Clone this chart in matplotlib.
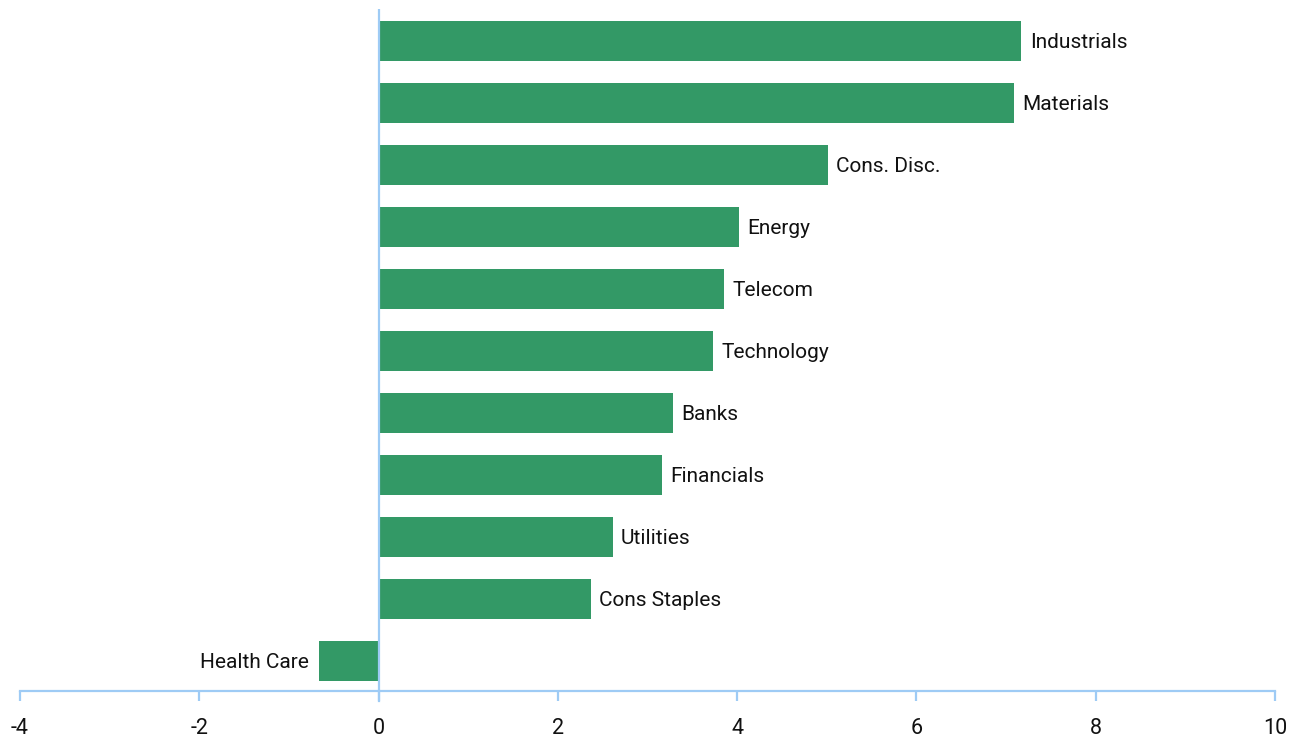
import matplotlib
matplotlib.use("Agg")
import matplotlib.pyplot as plt

categories = ["Health Care", "Cons Staples", "Utilities", "Financials", "Banks",
              "Technology", "Telecom", "Energy", "Cons. Disc.", "Materials", "Industrials"]
values = [-0.67, 2.37, 2.61, 3.16, 3.28, 3.73, 3.85, 4.02, 5.01, 7.09, 7.17]
xticks = [-4, -2, 0, 2, 4, 6, 8, 10]

GREEN = "#339966"
AXBLUE = "#9ecbf5"

plt.rcParams['font.family'] = ['Roboto', 'DejaVu Sans']

fig = plt.figure(figsize=(13.04, 7.45), dpi=100)
ax = fig.add_axes([20/1304, 54/745, 1255/1304, (691-9)/745])

ypos = list(range(len(categories)))
ax.barh(ypos, values, height=0.645, color=GREEN, zorder=2)

for y, v, c in zip(ypos, values, categories):
    if v >= 0:
        ax.annotate(c, (v, y), xytext=(6, -1), textcoords="offset points",
                    ha="left", va="center", fontsize=15, color="#111111")
    else:
        ax.annotate(c, (v, y), xytext=(-7, -1), textcoords="offset points",
                    ha="right", va="center", fontsize=15, color="#111111")

ax.set_xlim(-4, 10)
ax.set_ylim(-0.484, 10.516)
ax.axvline(0, ymin=0, ymax=1, color=AXBLUE, lw=1.6, zorder=3)
ax.plot([0, 0], [-0.484, -0.484 - 10/62], color=AXBLUE, lw=1.6, clip_on=False, zorder=3)

for s in ["top", "right", "left"]:
    ax.spines[s].set_visible(False)
ax.spines["bottom"].set_color(AXBLUE)
ax.spines["bottom"].set_linewidth(1.6)

ax.set_xticks(xticks)
ax.set_xticklabels([str(t) for t in xticks])
ax.tick_params(axis="x", direction="out", length=7.5, width=1.6, color=AXBLUE,
               labelsize=15.5, labelcolor="#111111", pad=12)
ax.set_yticks([])

fig.savefig("out.png", dpi=100)
